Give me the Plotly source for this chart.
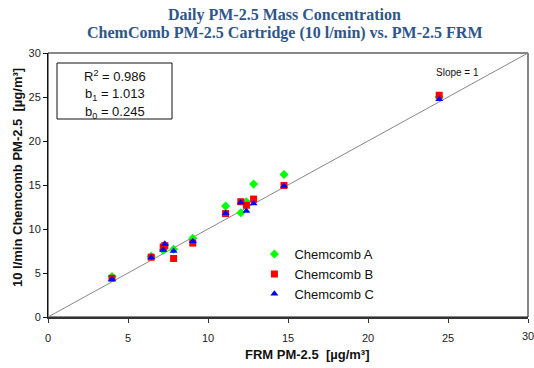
import plotly.graph_objects as go

# Data
frm = [4.0, 6.45, 7.2, 7.3, 7.85, 9.05, 11.1, 12.05, 12.4, 12.85, 14.75, 24.45]
chem_a = [4.6, 6.9, 7.6, 8.2, 7.7, 8.95, 12.6, 11.85, 13.1, 15.1, 16.2, 25.0]
chem_b = [4.4, 6.8, 7.95, 8.1, 6.65, 8.4, 11.75, 13.1, 12.7, 13.4, 14.95, 25.2]
chem_c = [4.3, 6.75, 7.6, 8.3, 7.5, 8.6, 11.8, 13.0, 12.05, 12.9, 14.9, 24.75]
slope_x = [0, 30]
slope_y = [0, 30]
x_ticks = [0, 5, 10, 15, 20, 25, 30]
y_ticks = [0, 5, 10, 15, 20, 25, 30]
title_lines = ["Daily PM-2.5 Mass Concentration",
               "ChemComb PM-2.5 Cartridge (10 l/min) vs. PM-2.5 FRM"]
stats = ["R<sup>2</sup> = 0.986", "b<sub>1</sub> = 1.013", "b<sub>0</sub> = 0.245"]

font = "Liberation Sans, Arial, sans-serif"

fig = go.Figure()
fig.add_trace(go.Scatter(x=slope_x, y=slope_y, mode="lines",
                         line=dict(color="#888888", width=1), showlegend=False,
                         hoverinfo="skip"))
fig.add_trace(go.Scatter(x=frm, y=chem_a, mode="markers", name="Chemcomb A",
                         marker=dict(symbol="diamond", color="#00FF00", size=7)))
fig.add_trace(go.Scatter(x=frm, y=chem_b, mode="markers", name="Chemcomb B",
                         marker=dict(symbol="square", color="#FF0000", size=7)))
fig.add_trace(go.Scatter(x=frm, y=chem_c, mode="markers", name="Chemcomb C",
                         marker=dict(symbol="triangle-up", color="#0000FF", size=7)))

fig.update_layout(
    width=534, height=368,
    margin=dict(l=48, r=6, t=53, b=51),
    paper_bgcolor="white", plot_bgcolor="white",
    xaxis=dict(range=[0, 30], tickvals=x_ticks, ticktext=[str(v) for v in x_ticks[:-1]] + [""],
               showgrid=False, zeroline=False,
               showline=True, linecolor="#333333", linewidth=2,
               ticks="outside", ticklen=4, tickcolor="#333333", ticklabelstandoff=6,
               tickfont=dict(family=font, size=11, color="#222222")),
    yaxis=dict(range=[0, 30], tickvals=y_ticks, showgrid=False, zeroline=False,
               showline=True, linecolor="#111111", linewidth=1,
               ticks="outside", ticklen=4, tickcolor="#111111",
               tickfont=dict(family=font, size=11, color="#222222")),
    legend=dict(x=0.43, y=0.295, xanchor="left", yanchor="top",
                font=dict(family=font, size=13, color="#111111"),
                bgcolor="rgba(0,0,0,0)", itemwidth=30, tracegroupgap=0),
    shapes=[
        dict(type="rect", xref="paper", yref="paper", x0=0, x1=1, y0=0, y1=1,
             line=dict(color="#111111", width=1), layer="below"),
        dict(type="rect", xref="paper", yref="paper",
             x0=(57 - 48) / 480, x1=(172 - 48) / 480,
             y0=(317 - 119) / 264, y1=(317 - 63) / 264,
             line=dict(color="#111111", width=1), fillcolor="white"),
    ],
)

annotations = []
for txt, ypx in zip(title_lines, [15, 33]):
    annotations.append(dict(text="<b>" + txt + "</b>", xref="paper", yref="paper",
                            x=(284 - 48) / 480, y=(317 - ypx) / 264,
                            xanchor="center", yanchor="middle", showarrow=False,
                            font=dict(family="Liberation Serif, Times New Roman, serif",
                                      size=16, color="#2F5689")))
for txt, ypx in zip(stats, [76, 94, 112]):
    annotations.append(dict(text=txt, xref="paper", yref="paper",
                            x=(115 - 48) / 480, y=(317 - ypx) / 264,
                            xanchor="center", yanchor="middle", showarrow=False,
                            font=dict(family=font, size=13, color="#111111")))
annotations.append(dict(text="Slope = 1", xref="paper", yref="paper",
                        x=(457 - 48) / 480, y=(317 - 72) / 264,
                        xanchor="center", yanchor="middle", showarrow=False,
                        font=dict(family=font, size=10, color="#111111")))
# last x tick label (clipped at the right edge in the reference)
annotations.append(dict(text=str(x_ticks[-1]), xref="x", yref="paper",
                        x=x_ticks[-1], y=-(336 - 317) / 264,
                        xanchor="center", yanchor="middle", showarrow=False,
                        font=dict(family=font, size=11, color="#222222")))
annotations.append(dict(text="<b>FRM PM-2.5  [µg/m³]</b>", xref="paper", yref="paper",
                        x=(307 - 48) / 480, y=-(354 - 317) / 264,
                        xanchor="center", yanchor="middle", showarrow=False,
                        font=dict(family=font, size=13, color="#111111")))
annotations.append(dict(text="<b>10 l/min Chemcomb PM-2.5  [µg/m³]</b>", xref="paper", yref="paper",
                        x=(17 - 48) / 480, y=(317 - 178) / 264, textangle=-90,
                        xanchor="center", yanchor="middle", showarrow=False,
                        font=dict(family=font, size=13, color="#111111")))
fig.update_layout(annotations=annotations)

fig.write_html("out.html")
